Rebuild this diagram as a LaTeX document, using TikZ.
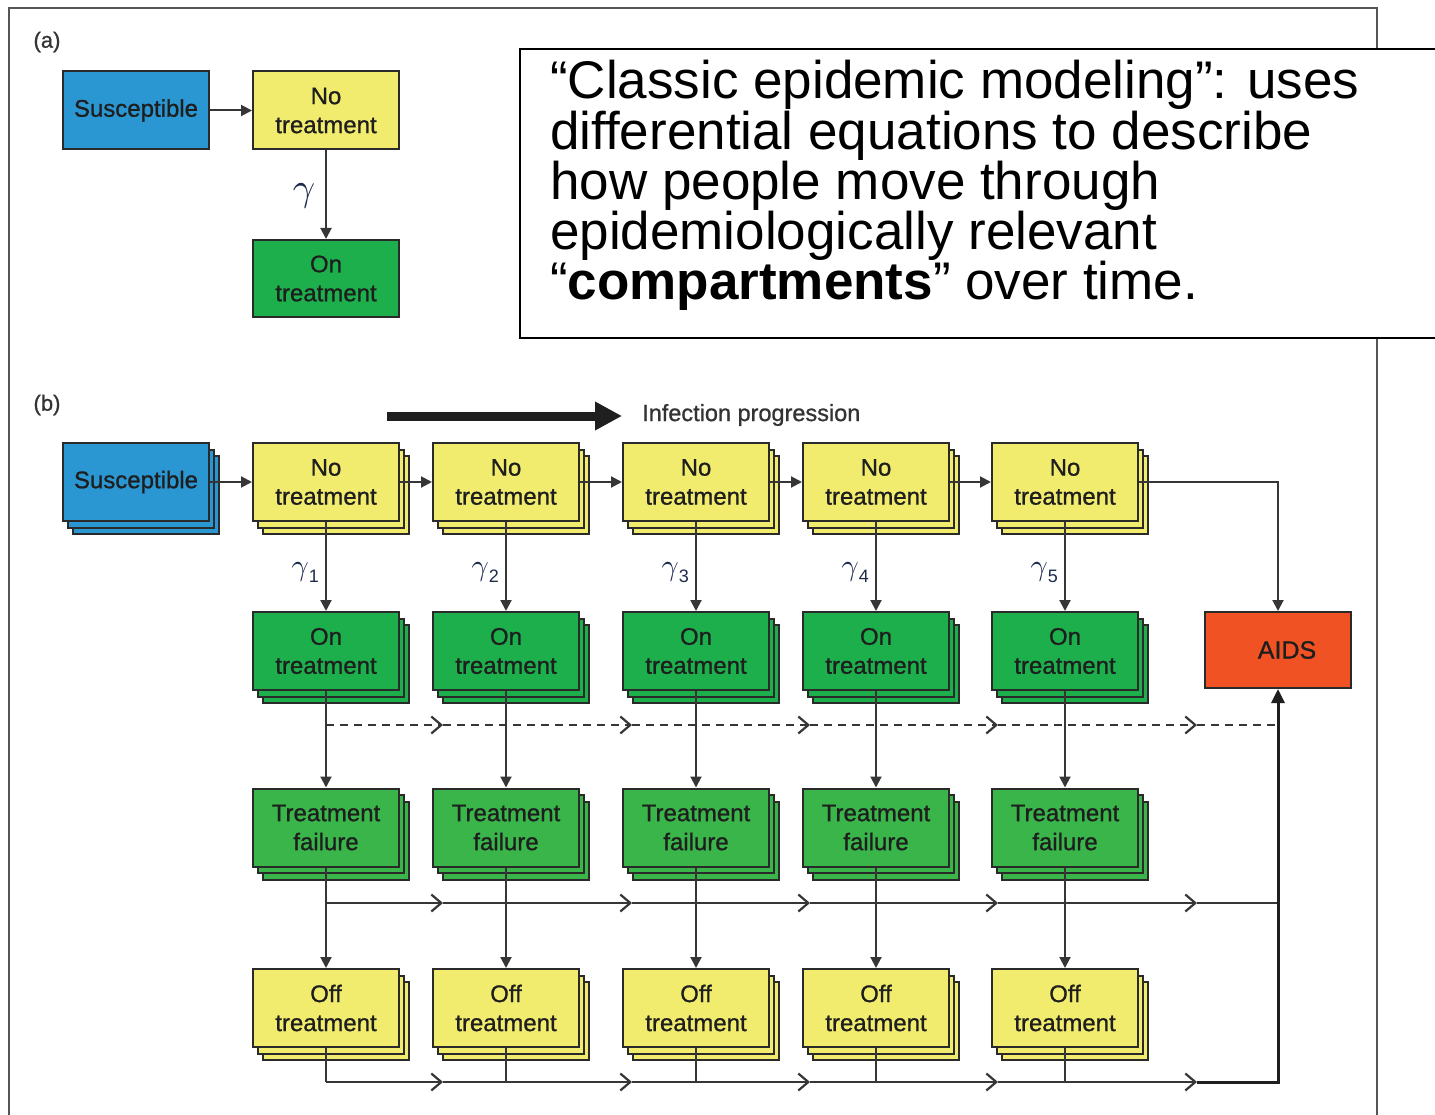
\documentclass[tikz,border=0pt]{standalone}
\usepackage{fontspec}
\setmainfont{Liberation Sans}
\newfontfamily\compfont{Liberation Sans}[FakeBold=0.9]
\usetikzlibrary{arrows.meta,shadows}

\definecolor{susblue}{HTML}{2A96D2}
\definecolor{notreat}{HTML}{F2EC6E}
\definecolor{ontreat}{HTML}{1CAF4C}
\definecolor{failtreat}{HTML}{3AB54A}
\definecolor{aidsred}{HTML}{F15223}
\definecolor{edge}{HTML}{2A2A2A}
\definecolor{wire}{HTML}{363636}
\definecolor{ink}{HTML}{1E1E1E}
\definecolor{greek}{HTML}{1C2A4C}
\definecolor{tagc}{HTML}{333333}
\definecolor{framec}{HTML}{555555}

% italic gamma, scaled from the 10pt math font
\newcommand{\rategamma}[1]{\scalebox{#1}{$\gamma$}}

\begin{document}
\begin{tikzpicture}[x=1pt,y=-1pt,
  comp/.style={draw=edge, line width=2pt, minimum width=146pt, minimum height=78pt,
    inner sep=0pt, align=center, text=ink, font=\compfont\fontsize{24}{29}\selectfont},
  stack/.style={double copy shadow={shadow xshift=5pt, shadow yshift=-6.5pt}},
  conn/.style={draw=wire, line width=2pt, -{Triangle[length=11pt,width=11pt]}},
  rowline/.style={draw=wire, line width=2pt},
  dashrow/.style={draw=wire, line width=2pt, dash pattern=on 8pt off 6pt},
  chev/.style={-{Straight Barb[length=10pt,width=17pt,line width=2.2pt]}},
  rate/.style={text=greek, inner sep=0pt},
  panel/.style={text=tagc, font=\compfont\fontsize{22}{22}\selectfont, inner sep=0pt},
  notefont/.style={font=\fontsize{53}{50}\selectfont, inner sep=0pt, anchor=base west, text=black},
]
\useasboundingbox (0,0) rectangle (1435,1115);
\fill[white] (0,0) rectangle (1435,1115);

% outer frame (open at the bottom)
\draw[framec, line width=2pt] (9,1125) -- (9,8) -- (1377,8) -- (1377,1125);

% ---------- panel (a) ----------
\node[panel] (la) at (47,42) {(a)};
\node[comp, fill=susblue] (asus) at (136,110.5) {Susceptible};
\node[comp, fill=notreat] (ano) at (326,110.5) {No\\treatment};
\node[comp, fill=ontreat, minimum height=77pt] (aon) at (326,278.5) {On\\treatment};
\draw[conn] (asus) -- (ano);
\draw[conn] (ano) -- (aon);
\node[rate] (ga) at (304,196) {\rategamma{3.9}};

% ---------- note box ----------
\node[draw=black, line width=2pt, fill=white, minimum width=940pt, minimum height=289pt,
  anchor=north west, inner sep=0pt] (note) at (519,48) {};
\node[notefont] (t1) at (550,99) {“Classic epidemic modeling”: uses};
\node[notefont] (t2) at (550,149.5) {differential equations to describe};
\node[notefont] (t3) at (550,200) {how people move through};
\node[notefont] (t4) at (550,250) {epidemiologically relevant};
\node[notefont] (t5) at (550,300) {“\textbf{compartments}” over time.};

% ---------- panel (b) ----------
\node[panel] (lb) at (47,405) {(b)};
\coordinate (pa) at (387,416);
\coordinate (pb) at (622,416);
\draw[black!88, line width=9pt, -{Triangle[length=27pt,width=27pt]}] (pa) -- (pb);
\node[text=tagc, inner sep=0pt, anchor=west, font=\compfont\fontsize{23.5}{23.5}\selectfont] (prog) at (642,415) {Infection progression};

\node[comp, stack, fill=susblue] (bsus) at (136,482) {Susceptible};

\foreach \i/\cx in {1/326,2/506,3/696,4/876,5/1065}{
  \node[comp, stack, fill=notreat] (n\i) at (\cx,482) {No\\treatment};
  \node[comp, stack, fill=ontreat] (o\i) at (\cx,651) {On\\treatment};
  \node[comp, stack, fill=failtreat] (f\i) at (\cx,827.5) {Treatment\\failure};
  \node[comp, stack, fill=notreat] (x\i) at (\cx,1008) {Off\\treatment};
}
\node[comp, fill=aidsred, minimum height=76pt, font=\compfont\fontsize{25}{25}\selectfont] (aids) at (1278,650) {\hspace*{18pt}AIDS};

% progression along the untreated row
\draw[conn] (bsus) -- (n1);
\foreach \i/\j in {1/2,2/3,3/4,4/5}{ \draw[conn] (n\i) -- (n\j); }
\draw[conn] (n5.east) -- (n5.east -| aids) -- (aids.north);

% vertical transitions with rates
\foreach \i/\cx in {1/326,2/506,3/696,4/876,5/1065}{
  \draw[conn] (n\i) -- (o\i);
  \draw[conn] (o\i) -- (f\i);
  \draw[conn] (f\i) -- (x\i);
  \node[rate, anchor=east] (g\i) at (\cx-7,573)
    {\rategamma{3.0}\raisebox{-7pt}{\fontsize{18}{18}\selectfont\i}};
}

% flows into AIDS
\foreach \i/\t in {1/443,2/632,3/810,4/998,5/1197}{
  \coordinate (dj\i) at (o\i |- 0,725);
  \coordinate (dt\i) at (\t,725);
  \coordinate (fj\i) at (f\i |- 0,903);
  \coordinate (ft\i) at (\t,903);
  \coordinate (xj\i) at (x\i |- 0,1082);
  \coordinate (xt\i) at (\t,1082);
}
\coordinate (dend) at (aids |- 0,725);
\coordinate (fend) at (aids |- 0,903);
\coordinate (xend) at (aids |- 0,1082);

% dashed: on treatment -> AIDS
\draw[dashrow, chev] (dj1) -- (dt1);
\foreach \i/\j in {1/2,2/3,3/4,4/5}{ \draw[dashrow, chev] (dt\i) -- (dt\j); }
\draw[dashrow] (dt5) -- (dend);

% treatment failure -> AIDS
\draw[rowline, chev] (fj1) -- (ft1);
\foreach \i/\j in {1/2,2/3,3/4,4/5}{ \draw[rowline, chev] (ft\i) -- (ft\j); }
\draw[rowline] (ft5) -- (fend);

% off treatment -> AIDS
\foreach \i in {1,...,5}{ \draw[rowline] (x\i.south) -- (xj\i); }
\draw[rowline, chev] (xj1) -- (xt1);
\foreach \i/\j in {1/2,2/3,3/4,4/5}{ \draw[rowline, chev] (xt\i) -- (xt\j); }
\draw[draw=black!88, line width=3pt, line join=miter, -{Triangle[length=14pt,width=13pt]}]
  (xt5) -- (xend) -- (aids.south);
\end{tikzpicture}
\end{document}
